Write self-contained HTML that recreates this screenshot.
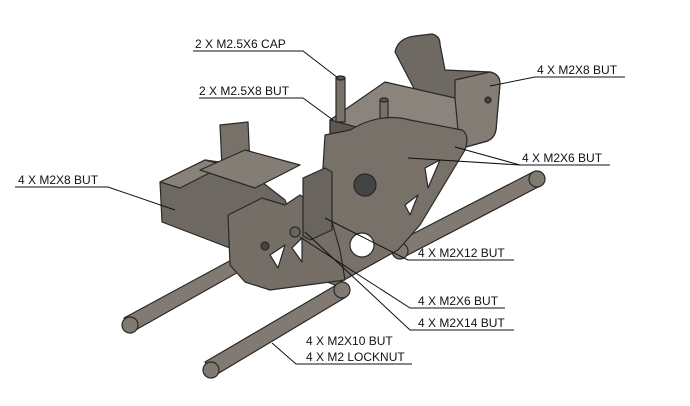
<!DOCTYPE html>
<html><head><style>
html,body{margin:0;padding:0;background:#fff;}
svg{display:block;}
text{font-family:"Liberation Sans",sans-serif;font-size:12px;fill:#111;}
</style></head><body>
<svg width="690" height="406" viewBox="0 0 690 406" xmlns="http://www.w3.org/2000/svg">
<g stroke="#2a2826" stroke-width="1.2" stroke-linejoin="round">
<!-- rods -->
<g fill="#807a72">
<path d="M124,318 L235,258 L242,270 L132,332 Z"/>
<circle cx="130" cy="325" r="8"/>
<path d="M205,362 L338,284 L346,297 L214,376 Z"/>
<circle cx="211" cy="370" r="8"/>
<circle cx="342" cy="290" r="8"/>
<path d="M395,243 L533,172 L540,186 L402,258 Z"/>
<circle cx="537" cy="179" r="8"/>
<circle cx="400" cy="251" r="8"/>
</g>
<!-- back upright bracket -->
<path fill="#6f6963" d="M395,52 Q398,38 415,36 L432,34 Q440,36 440,44 L445,70 L490,72 Q500,74 500,84 L496,130 Q494,140 484,142 L455,150 L450,112 L420,100 Z"/>
<path fill="#837d75" d="M455,80 L490,72 Q500,74 500,84 L496,130 Q494,140 484,142 L455,150 Z"/>
<!-- tray -->
<path fill="#8a847c" d="M330,120 L385,82 L455,98 L458,130 L405,155 L330,138 Z"/>
<path fill="#5c5751" d="M330,120 L330,138 L405,155 L405,140 Z"/>
<!-- posts -->
<rect x="336" y="78" width="9" height="44" fill="#77716a"/>
<rect x="380" y="100" width="8" height="40" fill="#77716a"/>
<ellipse cx="340.5" cy="78" rx="4.5" ry="2" fill="#555"/>
<ellipse cx="384" cy="100" rx="4" ry="2" fill="#555"/>
<!-- left back box -->
<path fill="#6e6862" d="M160,182 L205,160 L240,165 L285,200 L300,240 L235,250 L162,222 Z"/>
<path fill="#878179" d="M160,182 L205,160 L225,165 L180,188 Z"/>
<path fill="#77716a" d="M220,125 L248,122 L250,165 L222,168 Z"/>
<path fill="#837d75" d="M200,170 L245,150 L300,165 L255,188 Z"/>
<!-- main right plate -->
<path fill="#77716a" d="M325,135 L350,130 Q380,112 410,120 L462,130 Q470,135 465,150 L420,225 L398,250 L335,285 L300,272 L300,245 L320,215 Z"/>
<!-- left plate -->
<path fill="#746e67" d="M228,215 L262,198 L285,205 L300,195 L330,215 L340,250 L345,280 L270,290 L245,282 L230,265 Z"/>
<!-- front block -->
<path fill="#6a645e" d="M303,178 L325,168 L332,172 L332,230 L310,240 L303,236 Z"/>
<!-- motor hole -->
<circle cx="365" cy="185" r="11" fill="#444"/>
<circle cx="362" cy="245" r="12" fill="#fff"/>
<!-- triangles -->
<path fill="#fff" d="M425,168 L440,160 L428,188 Z"/>
<path fill="#fff" d="M405,205 L418,195 L410,215 Z"/>
<path fill="#fff" d="M270,255 L285,245 L278,268 Z"/>
<path fill="#fff" d="M292,248 L302,238 L302,262 Z"/>
<circle cx="265" cy="246" r="4" fill="#444"/>
<circle cx="488" cy="100" r="3" fill="#444"/>
<circle cx="295" cy="232" r="5" fill="#6a645e"/>
</g>
<!-- leaders -->
<g stroke="#111" stroke-width="1" fill="none">
<path d="M193,51 L303,51 L338,78"/>
<path d="M199,98 L303,98 L333,120"/>
<path d="M625,77 L535,77 L490,86"/>
<path d="M610,165 L520,165 L455,147 M520,165 L408,158"/>
<path d="M15,187 L108,187 L175,210"/>
<path d="M514,260 L408,260 L325,218"/>
<path d="M505,308 L410,308 L300,237"/>
<path d="M514,330 L410,330 L305,232"/>
<path d="M412,364 L296,364 L272,343"/>
</g>
<text x="195" y="48">2 X M2.5X6 CAP</text>
<text x="199" y="95">2 X M2.5X8 BUT</text>
<text x="537" y="74">4 X M2X8 BUT</text>
<text x="522" y="162">4 X M2X6 BUT</text>
<text x="18" y="184">4 X M2X8 BUT</text>
<text x="418" y="257">4 X M2X12 BUT</text>
<text x="418" y="305">4 X M2X6 BUT</text>
<text x="418" y="327">4 X M2X14 BUT</text>
<text x="306" y="345">4 X M2X10 BUT</text>
<text x="306" y="361">4 X M2 LOCKNUT</text>
</svg>
</body></html>
